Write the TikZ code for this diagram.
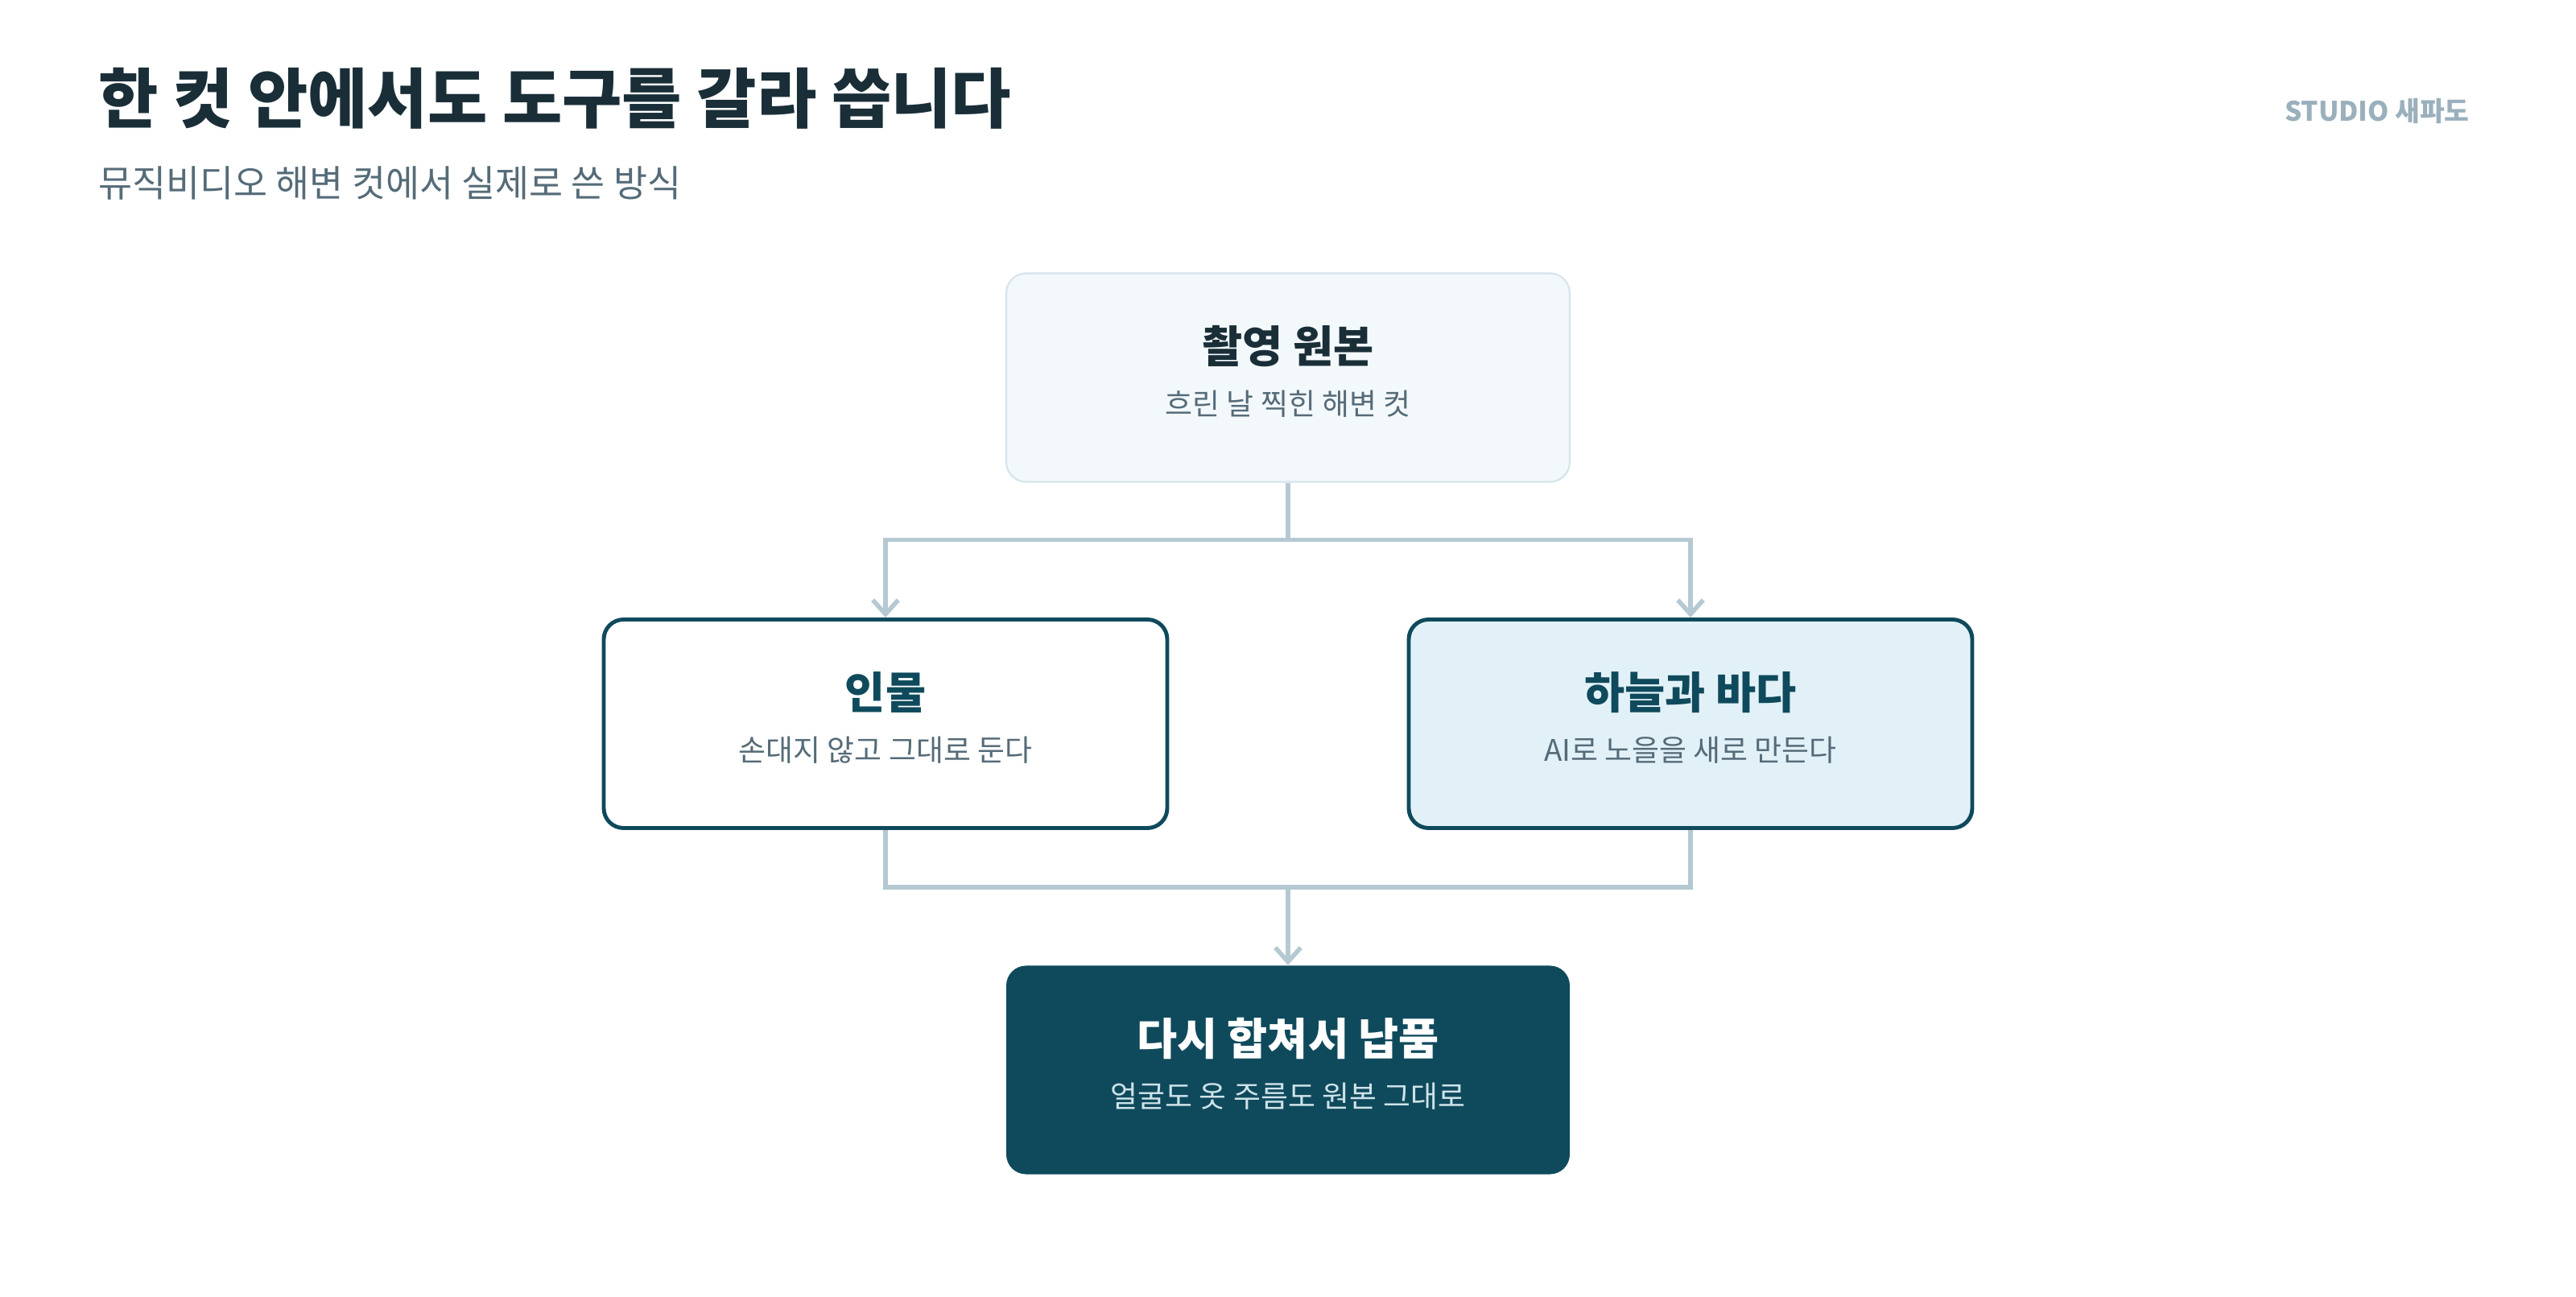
\documentclass[tikz,border=0pt]{standalone}
\usepackage{fontspec}
\setmainfont{Noto Sans CJK KR}
\usetikzlibrary{positioning,arrows.meta}
\definecolor{ink}{HTML}{1A2E38}
\definecolor{subink}{HTML}{556B78}
\definecolor{brand}{HTML}{9AB0BC}
\definecolor{teal}{HTML}{0F4A5C}
\definecolor{wire}{HTML}{B5C9D2}
\definecolor{softbg}{HTML}{F3F8FB}
\definecolor{softline}{HTML}{D6E4EC}
\definecolor{skybg}{HTML}{E2F1F8}
\definecolor{palefg}{HTML}{CFE3EA}

\begin{document}
\begin{tikzpicture}[
        box/.style={rounded corners=7pt, minimum width=7cm, minimum height=2.59cm, align=center},
        stage/.style={box, draw=teal, line width=1.4pt},
        wire/.style={draw=wire, line width=1.6pt},
        >={Straight Barb[length=5pt,width=9pt]}
    ]
        % Fix the page size
        \useasboundingbox (0,0) rectangle (32,16.1);

        % Draw the heading
        \node[anchor=west, text=ink, font=\bfseries\fontsize{23}{26}\selectfont] (title) at (1.1,14.88) {한 컷 안에서도 도구를 갈라 씁니다};
        \node[anchor=west, text=subink, font=\fontsize{13}{15}\selectfont] (subtitle) at (1.1,13.82) {뮤직비디오 해변 컷에서 실제로 쓴 방식};
        \node[anchor=east, text=brand, font=\bfseries\fontsize{9.5}{11}\selectfont] (brand) at (30.8,14.72) {STUDIO 새파도};

        % Draw the boxes
        \node[box, fill=softbg, draw=softline, line width=0.6pt] (source) at (16,11.41) {};
        \node[stage, fill=white] (person) at ([xshift=-5cm,yshift=-4.3cm]source) {};
        \node[stage, fill=skybg] (sky) at ([xshift=5cm,yshift=-4.3cm]source) {};
        \node[box, fill=teal] (final) at ([yshift=-8.6cm]source) {};

        % Label the boxes
        \node[text=ink, font=\bfseries\fontsize{15.5}{18}\selectfont] at ([yshift=0.39cm]source) {촬영 원본};
        \node[text=subink, font=\fontsize{10.5}{12}\selectfont] at ([yshift=-0.33cm]source) {흐린 날 찍힌 해변 컷};
        \node[text=teal, font=\bfseries\fontsize{15.5}{18}\selectfont] at ([yshift=0.39cm]person) {인물};
        \node[text=subink, font=\fontsize{10.5}{12}\selectfont] at ([yshift=-0.33cm]person) {손대지 않고 그대로 둔다};
        \node[text=teal, font=\bfseries\fontsize{15.5}{18}\selectfont] at ([yshift=0.39cm]sky) {하늘과 바다};
        \node[text=subink, font=\fontsize{10.5}{12}\selectfont] at ([yshift=-0.33cm]sky) {AI로 노을을 새로 만든다};
        \node[text=white, font=\bfseries\fontsize{15.5}{18}\selectfont] at ([yshift=0.39cm]final) {다시 합쳐서 납품};
        \node[text=palefg, font=\fontsize{10.5}{12}\selectfont] at ([yshift=-0.33cm]final) {얼굴도 옷 주름도 원본 그대로};

        % Draw the split
        \coordinate (split) at ([yshift=-0.71cm]source.south);
        \draw[wire] (source.south) -- (split);
        \draw[wire,->] (split) -| (person.north);
        \draw[wire,->] (split) -| (sky.north);

        % Draw the merge
        \coordinate (merge) at ([yshift=-0.71cm]person.south -| final.north);
        \draw[wire] (person.south) |- (merge);
        \draw[wire] (sky.south) |- (merge);
        \draw[wire,->] (merge) -- (final.north);
\end{tikzpicture}
\end{document}
